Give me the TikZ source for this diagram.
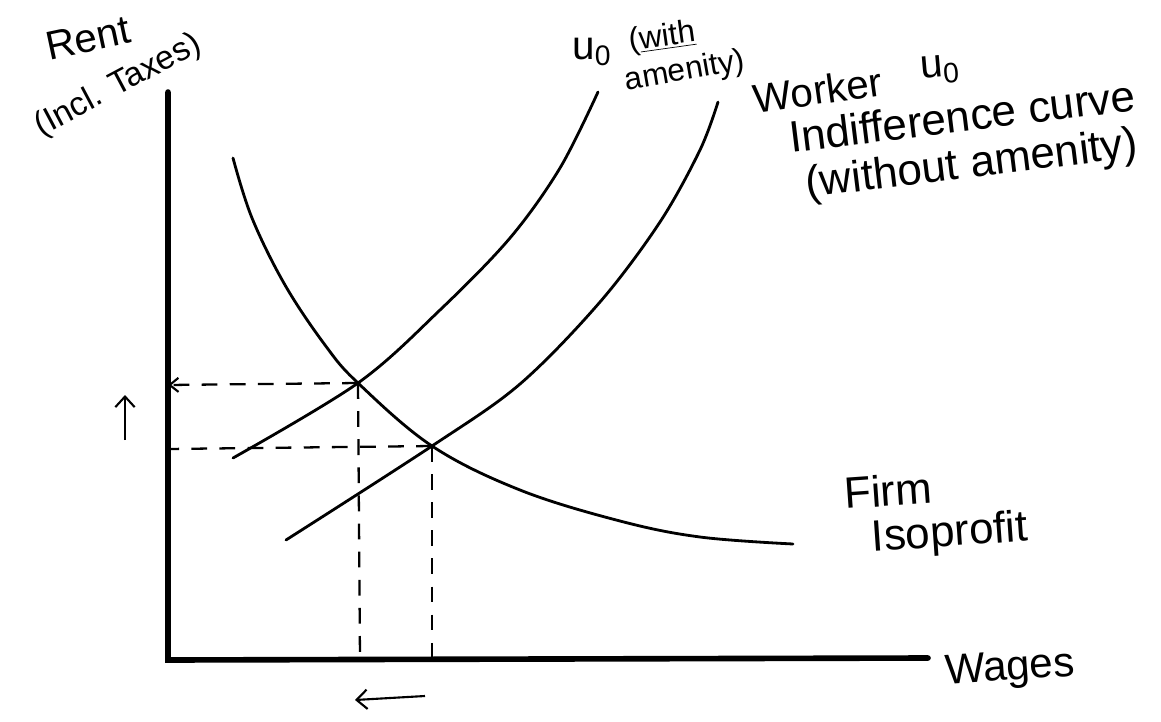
\documentclass[tikz,border=0pt]{standalone}
\usepackage{fontspec}
\setmainfont{Liberation Sans}
\usetikzlibrary{arrows.meta}
\begin{document}
\begin{tikzpicture}[x=0.02cm,y=-0.02cm,
  curve/.style={line width=1.6pt,line cap=round,line join=round},
  axisline/.style={line width=3.2pt,line cap=round},
  guide/.style={line width=1.3pt,dash pattern=on 9pt off 7pt},
  shiftarrow/.style={line width=1.2pt,-{Straight Barb[length=6pt,width=11pt,line width=1.2pt]}},
  lbl/.style={font=\fontsize{23}{25}\selectfont,inner sep=0pt}]
\path[use as bounding box,fill=white] (0,0) rectangle (1161,721);
% axes
\coordinate (O) at (168,660);
\coordinate (ytop) at (168,92);
\coordinate (xend) at (928,658);
\draw[axisline] (ytop) -- (O) -- (xend);
% key points
\coordinate (A) at (358,383);
\coordinate (B) at (432,446);
\coordinate (Ay) at (168,385);
\coordinate (By) at (168,449);
\coordinate (Ax) at (360,660);
\coordinate (Bx) at (432,660);
% curves
\draw[curve] plot[smooth,tension=0.6] coordinates {(233,158) (252,218) (285,285) (325,345) (A) (B) (520,490) (620,521) (700,537) (793,544)};
\draw[curve] plot[smooth,tension=0.55] coordinates {(233,458) (A) (440,310) (510,238) (560,168) (598,92)};
\draw[curve] plot[smooth,tension=0.55] coordinates {(286,540) (B) (520,384) (600,302) (660,222) (700,150) (718,102)};
% guides
\draw[guide,-{Straight Barb[length=5pt,width=8pt,line width=1.2pt]}] (A) -- (Ay);
\draw[guide] (B) -- (By);
\draw[guide] (A) -- (Ax);
\draw[guide] (B) -- (Bx);
% shift arrows
\coordinate (u1) at (125,440);
\coordinate (u2) at (125,395);
\draw[shiftarrow] (u1) -- (u2);
\coordinate (l1) at (425,696);
\coordinate (l2) at (355,700);
\draw[shiftarrow] (l1) -- (l2);
% labels
\node[lbl,rotate=12] (rent) at (88,38) {Rent};
\node[lbl,rotate=28,font=\fontsize{19}{21}\selectfont] (incl) at (118,86) {(Incl. Taxes)};
\node[lbl] (u0a) at (592,52) {u\textsubscript{0}};
\node[lbl,rotate=8,font=\fontsize{18}{20}\selectfont] (with) at (662,38) {(\underline{with}};
\node[lbl,rotate=10,font=\fontsize{18}{20}\selectfont] (amen) at (685,72) {amenity)};
\node[lbl,rotate=8] (worker) at (818,90) {Worker};
\node[lbl,rotate=5] (u0b) at (940,70) {u\textsubscript{0}};
\node[lbl,rotate=7,font=\fontsize{25}{27}\selectfont] (indiff) at (962,116) {Indifference curve};
\node[lbl,rotate=7,font=\fontsize{25}{27}\selectfont] (without) at (972,166) {(without amenity)};
\node[lbl,rotate=4,font=\fontsize{25}{27}\selectfont] (firm) at (888,490) {Firm};
\node[lbl,rotate=4,font=\fontsize{25}{27}\selectfont] (iso) at (950,535) {Isoprofit};
\node[lbl,rotate=4,font=\fontsize{24}{26}\selectfont] (wages) at (1010,670) {Wages};
\end{tikzpicture}
\end{document}
